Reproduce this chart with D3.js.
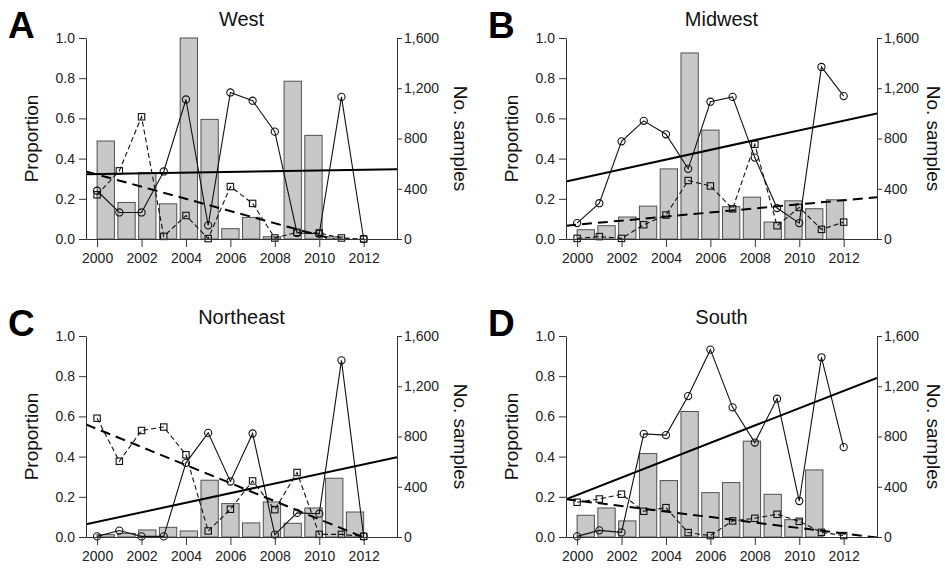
<!DOCTYPE html>
<html>
<head>
<meta charset="utf-8">
<script src="https://cdn.jsdelivr.net/npm/d3@7"></script>
<style>
  body { margin: 0; background: #fff; }
  text { font-family: "Liberation Sans", Arial, sans-serif; }
</style>
</head>
<body>
<script>
// categories and ticks
var years = [2000, 2001, 2002, 2003, 2004, 2005, 2006, 2007, 2008, 2009, 2010, 2011, 2012];
var yearTicks = [2000, 2002, 2004, 2006, 2008, 2010, 2012];
var propTicks = [0, 0.2, 0.4, 0.6, 0.8, 1.0];
var sampleTicks = [0, 400, 800, 1200, 1600];
var regions = ["West", "Midwest", "Northeast", "South"];
var letters = ["A", "B", "C", "D"];

// no. samples (bars, right axis)
var westSamples      = [780, 291, 529, 280, 1600, 952, 82, 172, 18, 1256, 825, 18, 0];
var midwestSamples   = [74, 106, 175, 262, 558, 1481, 867, 257, 333, 135, 304, 241, 312];
var northeastSamples = [19, 29, 56, 77, 48, 452, 266, 112, 279, 109, 231, 468, 199];
var southSamples     = [173, 231, 128, 664, 449, 999, 353, 433, 763, 340, 138, 534, 0];

// proportion, circle series (solid line)
var westCircle      = [0.240, 0.132, 0.132, 0.336, 0.694, 0.068, 0.729, 0.688, 0.534, 0.030, 0.026, 0.707, 0.0];
var midwestCircle   = [0.079, 0.178, 0.486, 0.588, 0.521, 0.349, 0.683, 0.707, 0.405, 0.154, 0.079, 0.856, 0.711];
var northeastCircle = [0.003, 0.032, 0.003, 0.003, 0.369, 0.518, 0.276, 0.515, 0.012, 0.120, 0.116, 0.879, 0.003];
var southCircle     = [0.003, 0.033, 0.023, 0.513, 0.507, 0.701, 0.932, 0.645, 0.470, 0.688, 0.179, 0.894, 0.447];

// proportion, square series (dashed line)
var westSquare      = [0.220, 0.339, 0.608, 0.013, 0.117, 0.002, 0.261, 0.177, 0.005, 0.033, 0.030, 0.005, 0.0];
var midwestSquare   = [0.003, 0.012, 0.003, 0.071, 0.119, 0.291, 0.264, 0.150, 0.471, 0.066, 0.157, 0.048, 0.084];
var northeastSquare = [0.591, 0.377, 0.530, 0.547, 0.409, 0.030, 0.138, 0.279, 0.136, 0.321, 0.013, 0.013, 0.003];
var southSquare     = [0.173, 0.189, 0.213, 0.128, 0.146, 0.022, 0.007, 0.080, 0.093, 0.113, 0.078, 0.023, 0.007];

// fitted trend lines, values at the two ends of the x range
var trendYears   = [1999.5, 2013.5];
var solidTrend   = [[0.322, 0.347], [0.286, 0.625], [0.063, 0.397], [0.188, 0.792]];
var dashedTrend  = [[0.336, -0.088], [0.066, 0.208], [0.560, -0.069], [0.188, -0.003]];

var samples = [westSamples, midwestSamples, northeastSamples, southSamples];
var circles = [westCircle, midwestCircle, northeastCircle, southCircle];
var squares = [westSquare, midwestSquare, northeastSquare, southSquare];

var svgWidth = 945, svgHeight = 570;
var w = 311, h = 201;
var origins = [[86, 38], [566, 38], [86, 336], [566, 336]];
var rightLabelGap = [63, 56, 63, 56];

var svg = d3.select("body").append("svg")
    .attr("width", svgWidth)
    .attr("height", svgHeight);

regions.forEach(function (name, i) { drawPanel(i); });

function drawPanel(i) {
    var g = svg.append("g")
        .attr("transform", "translate(" + origins[i][0] + "," + origins[i][1] + ")");

    var x = d3.scaleLinear().domain(trendYears).range([0, w]);
    var y = d3.scaleLinear().domain([0, 1]).range([h, 0]);
    var yR = d3.scaleLinear().domain([0, 1600]).range([h, 0]);
    var xb = d3.scaleBand().domain(years)
        .range([x(2000), x(2012)])
        .paddingInner(0.2 / 1.2)
        .paddingOuter(0);

    g.append("clipPath").attr("id", "clip" + i)
        .append("rect").attr("width", w).attr("height", h);

    // bars
    g.selectAll("rect.bar")
        .data(years.map(function (yr, k) { return { year: yr, n: samples[i][k] }; })
            .filter(function (d) { return d.n > 0; }))
        .enter().append("rect")
        .attr("class", "bar")
        .attr("x", function (d) { return xb(d.year); })
        .attr("width", xb.bandwidth())
        .attr("y", function (d) { return yR(d.n); })
        .attr("height", function (d) { return h - yR(d.n); })
        .attr("fill", "#c8c8c8")
        .attr("stroke", "#505050")
        .attr("stroke-width", 1);

    var line = d3.line()
        .x(function (d) { return x(d[0]); })
        .y(function (d) { return y(d[1]); });

    var circlePts = years.map(function (yr, k) { return [yr, circles[i][k]]; });
    var squarePts = years.map(function (yr, k) { return [yr, squares[i][k]]; });

    // series lines
    g.append("path").datum(squarePts)
        .attr("d", line)
        .attr("fill", "none")
        .attr("stroke", "#111")
        .attr("stroke-width", 1.1)
        .attr("stroke-dasharray", "5,3");

    g.append("path").datum(circlePts)
        .attr("d", line)
        .attr("fill", "none")
        .attr("stroke", "#111")
        .attr("stroke-width", 1.1);

    // markers
    g.selectAll("rect.sq")
        .data(squarePts)
        .enter().append("rect")
        .attr("class", "sq")
        .attr("x", function (d) { return x(d[0]) - 3.2; })
        .attr("y", function (d) { return y(d[1]) - 3.2; })
        .attr("width", 6.4)
        .attr("height", 6.4)
        .attr("fill", "none")
        .attr("stroke", "#111")
        .attr("stroke-width", 1.1);

    g.selectAll("circle.pt")
        .data(circlePts)
        .enter().append("circle")
        .attr("class", "pt")
        .attr("cx", function (d) { return x(d[0]); })
        .attr("cy", function (d) { return y(d[1]); })
        .attr("r", 3.6)
        .attr("fill", "none")
        .attr("stroke", "#111")
        .attr("stroke-width", 1.1);

    // trend lines
    var trendG = g.append("g").attr("clip-path", "url(#clip" + i + ")");
    trendG.append("path")
        .datum(trendYears.map(function (yr, k) { return [yr, solidTrend[i][k]]; }))
        .attr("d", line)
        .attr("fill", "none")
        .attr("stroke", "#000")
        .attr("stroke-width", 2);
    trendG.append("path")
        .datum(trendYears.map(function (yr, k) { return [yr, dashedTrend[i][k]]; }))
        .attr("d", line)
        .attr("fill", "none")
        .attr("stroke", "#000")
        .attr("stroke-width", 2)
        .attr("stroke-dasharray", "10,6");

    // axes
    var left = g.append("g")
        .call(d3.axisLeft(y).tickValues(propTicks)
            .tickFormat(d3.format(".1f")).tickSize(7).tickSizeOuter(0).tickPadding(4));
    var right = g.append("g")
        .attr("transform", "translate(" + w + ",0)")
        .call(d3.axisRight(yR).tickValues(sampleTicks)
            .tickFormat(d3.format(",")).tickSize(5).tickSizeOuter(0).tickPadding(2));
    var bottom = g.append("g")
        .attr("transform", "translate(0," + h + ")")
        .call(d3.axisBottom(x).tickValues(yearTicks)
            .tickFormat(d3.format("d")).tickSize(8).tickSizeOuter(0).tickPadding(6));

    [left, right, bottom].forEach(function (ax) {
        ax.attr("font-size", 14)
          .attr("font-family", "Liberation Sans, Arial, sans-serif")
          .attr("color", "#333");
        ax.selectAll("text").attr("fill", "#222");
    });

    // titles
    g.append("text")
        .attr("x", w / 2)
        .attr("y", -12)
        .attr("text-anchor", "middle")
        .attr("font-size", 20)
        .attr("fill", "#111")
        .text(regions[i]);

    g.append("text")
        .attr("x", -78)
        .attr("y", 0)
        .attr("font-size", 37)
        .attr("font-weight", "bold")
        .attr("fill", "#000")
        .text(letters[i]);

    g.append("text")
        .attr("transform", "translate(-55," + (h / 2) + ") rotate(-90)")
        .attr("text-anchor", "middle")
        .attr("dominant-baseline", "central")
        .attr("font-size", 19)
        .attr("fill", "#111")
        .text("Proportion");

    g.append("text")
        .attr("transform", "translate(" + (w + rightLabelGap[i]) + "," + (h / 2) + ") rotate(90)")
        .attr("text-anchor", "middle")
        .attr("dominant-baseline", "central")
        .attr("font-size", 19)
        .attr("fill", "#111")
        .text("No. samples");
}
</script>
</body>
</html>
